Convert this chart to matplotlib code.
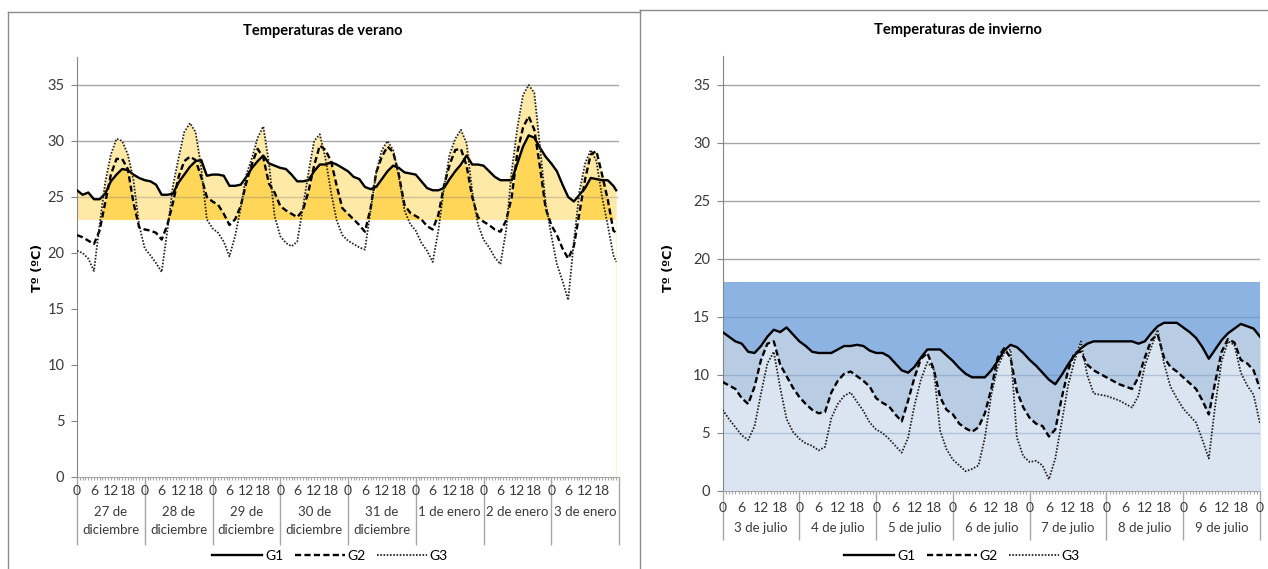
import numpy as np
import matplotlib
matplotlib.use('Agg')
import matplotlib.pyplot as plt
from matplotlib.lines import Line2D

plt.rcParams['font.family'] = ['Lato', 'DejaVu Sans']

# --- datos: temperaturas cada 2 horas ---
verano_dias = ['27 de\ndiciembre', '28 de\ndiciembre', '29 de\ndiciembre', '30 de\ndiciembre',
               '31 de\ndiciembre', '1 de enero', '2 de enero', '3 de enero']
invierno_dias = ['3 de julio', '4 de julio', '5 de julio', '6 de julio',
                 '7 de julio', '8 de julio', '9 de julio']
horas_etiqueta = [0, 6, 12, 18]

verano_horas = list(range(0, 192, 2)) + [191]
verano_g1 = [
    25.6, 25.2, 25.4, 24.8, 24.8, 25.3, 26.4, 27.0, 27.5, 27.4, 27.0, 26.7,
    26.5, 26.4, 26.1, 25.2, 25.2, 25.3, 26.3, 27.0, 27.7, 28.2, 28.3, 26.9,
    27.0, 27.0, 26.9, 26.0, 26.0, 26.1, 26.8, 27.6, 28.2, 28.7, 28.0, 27.8,
    27.6, 27.5, 27.0, 26.4, 26.4, 26.5, 27.3, 27.9, 27.9, 28.1, 27.9, 27.6,
    27.3, 26.8, 26.6, 25.9, 25.7, 25.9, 26.6, 27.3, 27.8, 27.6, 27.2, 27.1,
    27.0, 26.4, 25.8, 25.6, 25.6, 25.8, 26.6, 27.3, 27.9, 28.7, 27.9, 27.9,
    27.8, 27.3, 26.8, 26.5, 26.5, 26.5, 28.0, 29.5, 30.5, 30.3, 29.4, 28.6,
    28.0, 27.3, 26.1, 25.0, 24.6, 25.2, 25.8, 26.7, 26.6, 26.5, 26.5, 26.0,
    25.6]
verano_g2 = [
    21.6, 21.4, 21.1, 20.8, 22.0, 24.5, 27.0, 28.4, 28.4, 27.5, 24.5, 22.3,
    22.1, 22.0, 21.8, 21.2, 22.5, 24.5, 26.8, 28.2, 28.6, 28.3, 26.8, 25.0,
    24.6, 24.3, 23.5, 22.5, 23.0, 24.2, 26.3, 28.0, 29.3, 28.5, 26.2, 25.4,
    24.2, 23.8, 23.5, 23.2, 23.8, 25.5, 27.8, 29.6, 29.2, 28.2, 26.0, 24.0,
    23.5, 23.0, 22.5, 21.9, 24.0, 27.2, 28.6, 29.5, 29.0, 27.0, 24.3, 23.6,
    23.3, 23.0, 22.4, 22.1, 23.4, 26.0, 27.9, 29.2, 29.3, 27.8, 25.0, 23.2,
    22.8, 22.5, 22.1, 21.9, 22.9, 25.0, 29.0, 31.2, 32.2, 31.0, 27.7, 24.0,
    22.5, 21.6, 20.4, 19.5, 20.6, 23.6, 26.6, 28.8, 29.1, 27.0, 24.8, 22.0,
    21.8]
verano_g3 = [
    20.2, 20.0, 19.5, 18.4, 22.5, 26.3, 28.8, 30.2, 30.0, 28.8, 26.5, 22.5,
    20.4, 19.8, 19.1, 18.3, 22.0, 26.0, 28.5, 30.8, 31.6, 30.8, 27.6, 23.0,
    22.2, 21.8, 21.0, 19.7, 21.5, 24.0, 27.0, 28.5, 30.3, 31.3, 28.0, 23.3,
    21.5, 20.9, 20.6, 21.0, 24.0, 27.2, 30.0, 30.6, 28.5, 25.4, 22.9, 21.6,
    21.1, 20.8, 20.5, 20.3, 23.8, 27.2, 29.2, 30.0, 29.2, 26.8, 23.8, 22.6,
    22.0, 20.9, 20.2, 19.2, 22.0, 25.8, 28.8, 30.2, 31.0, 29.8, 25.5, 22.6,
    21.2, 20.5, 19.6, 19.0, 22.0, 27.3, 31.2, 34.1, 35.0, 34.3, 29.5, 24.5,
    21.6, 19.0, 17.5, 15.8, 21.0, 25.5, 28.0, 29.2, 28.2, 25.0, 22.5, 19.8,
    19.2]
verano_base = 23

invierno_horas = list(range(0, 169, 2))
invierno_g1 = [
    13.7, 13.3, 12.9, 12.7, 12.0, 11.9, 12.5, 13.3, 13.9, 13.7, 14.1, 13.5,
    12.9, 12.5, 12.0, 11.9, 11.9, 11.9, 12.2, 12.5, 12.5, 12.6, 12.5, 12.1,
    11.9, 11.9, 11.6, 11.0, 10.4, 10.2, 10.7, 11.5, 12.2, 12.2, 12.2, 11.7,
    11.2, 10.6, 10.1, 9.8, 9.8, 9.8, 10.4, 11.2, 12.1, 12.6, 12.4, 11.9,
    11.3, 10.8, 10.2, 9.6, 9.2, 10.0, 10.9, 11.7, 12.3, 12.7, 12.9, 12.9,
    12.9, 12.9, 12.9, 12.9, 12.9, 12.7, 12.9, 13.6, 14.2, 14.5, 14.5, 14.5,
    14.1, 13.7, 13.2, 12.4, 11.4, 12.2, 13.0, 13.6, 14.0, 14.4, 14.2, 14.0,
    13.3]
invierno_g2 = [
    9.4, 9.1, 8.8, 8.0, 7.5, 9.0, 11.3, 12.7, 12.9, 10.9, 9.9, 8.9,
    8.1, 7.5, 7.0, 6.7, 6.8, 8.5, 9.5, 10.1, 10.3, 9.9, 9.5, 9.0,
    8.0, 7.6, 7.3, 6.6, 6.0, 7.8, 9.8, 11.4, 11.9, 10.5, 8.1, 7.0,
    6.6, 5.8, 5.4, 5.1, 5.5, 6.7, 8.8, 11.5, 12.3, 11.5, 8.6, 7.2,
    6.3, 5.8, 5.6, 4.7, 5.3, 8.0, 10.4, 11.9, 12.0, 10.9, 10.4, 10.1,
    9.8, 9.5, 9.2, 9.0, 8.8, 9.8, 11.5, 13.0, 13.5, 11.5, 10.7, 10.3,
    9.8, 9.3, 8.8, 7.8, 6.6, 9.4, 12.0, 13.1, 12.8, 11.3, 11.0, 10.4,
    8.8]
invierno_g3 = [
    7.0, 6.2, 5.5, 4.8, 4.4, 5.6, 8.4, 11.0, 12.0, 8.9, 6.2, 5.1,
    4.5, 4.1, 3.9, 3.5, 3.8, 6.3, 7.5, 8.2, 8.5, 7.7, 6.9, 5.9,
    5.3, 5.0, 4.5, 3.9, 3.3, 4.6, 7.4, 9.6, 11.1, 10.5, 5.2, 3.6,
    2.7, 2.2, 1.7, 1.9, 2.2, 4.6, 8.3, 10.7, 11.9, 12.2, 4.6, 3.0,
    2.5, 2.6, 2.2, 1.0, 2.8, 5.9, 9.1, 11.2, 12.9, 10.0, 8.4, 8.3,
    8.2, 8.0, 7.8, 7.5, 7.2, 8.2, 10.8, 12.4, 13.9, 11.0, 9.0, 8.0,
    7.1, 6.5, 5.9, 4.4, 2.8, 7.4, 11.2, 12.9, 12.6, 10.2, 9.1, 8.3,
    5.8]
invierno_tope = 18

W, H = 1268, 569
GRIS = '#a6a6a6'
TEXTO = '#3a3a3a'
TAM = 10

fig = plt.figure(figsize=(W / 100, H / 100), dpi=100)
axL = fig.add_axes([77 / W, 1 - 477 / H, 542 / W, 420 / H])
axR = fig.add_axes([722.6 / W, 1 - 491 / H, 537.4 / W, 435 / H])


def eje(ax, dias, hora_dy, dia_dy, sep_len, cero_final):
    n = 24 * len(dias)
    ax.set_xlim(0, n)
    ax.set_ylim(0, 37.5)
    ax.set_yticks(range(0, 36, 5))
    for s in ['top', 'right']:
        ax.spines[s].set_visible(False)
    ax.spines['left'].set_color('#868686')
    ax.spines['bottom'].set_color(GRIS)
    ax.tick_params(axis='y', length=4, color='#868686', labelsize=TAM + 0.5,
                   labelcolor=TEXTO, pad=5)
    ax.set_xticks(np.arange(0, n + 1, 24))
    ax.set_xticklabels([])
    ax.set_xticks(np.arange(0, n + 1), minor=True)
    ax.tick_params(axis='x', which='major', length=sep_len, color=GRIS, width=1)
    ax.tick_params(axis='x', which='minor', length=2.5, color=GRIS, width=0.8)
    for d in range(len(dias)):
        for h in horas_etiqueta:
            ax.annotate(str(h), xy=(24 * d + h, 0), xycoords=('data', 'axes fraction'),
                        xytext=(0, -hora_dy), textcoords='offset points',
                        ha='center', va='center', fontsize=TAM, color=TEXTO)
    if cero_final:
        ax.annotate('0', xy=(n, 0), xycoords=('data', 'axes fraction'),
                    xytext=(0, -hora_dy), textcoords='offset points',
                    ha='center', va='center', fontsize=TAM, color=TEXTO)
    for d, nombre in enumerate(dias):
        for i, linea in enumerate(nombre.split('\n')):
            ax.annotate(linea, xy=(24 * d + 12, 0), xycoords=('data', 'axes fraction'),
                        xytext=(0, -(dia_dy + i * 13)), textcoords='offset points',
                        ha='center', va='center', fontsize=TAM - 0.5, color=TEXTO)


def lineas(ax, h, g1, g2, g3):
    ax.plot(h, g1, color='black', lw=1.7, zorder=5)
    ax.plot(h, g2, color='black', lw=1.7, ls=(0, (2.6, 1.4)), zorder=5)
    ax.plot(h, g3, color='#222222', lw=1.3, ls=(0, (0.9, 0.9)), zorder=5)


# --- verano ---
eje(axL, verano_dias, 10.1, 25.2, 49, False)
hv = np.array(verano_horas)
g1, g2, g3 = np.array(verano_g1), np.array(verano_g2), np.array(verano_g3)
tope = np.maximum(np.maximum(g1, g2), g3)
axL.fill_between(hv, verano_base, np.maximum(tope, verano_base), color='#FFE9A6', lw=0, zorder=1)
axL.fill_between(hv, verano_base, np.maximum(np.minimum(g1, g2), verano_base),
                 color='#FFD658', lw=0, zorder=2)
axL.plot([hv[-1], hv[-1]], [0, verano_base], color='#FFF4D2', lw=1, zorder=1)
for y in [30, 35]:
    axL.axhline(y, color=GRIS, lw=1, zorder=0.5)
axL.axhline(25, color='#7a7a7a', lw=1, alpha=0.35, zorder=3)
lineas(axL, hv, g1, g2, g3)

# --- invierno ---
eje(axR, invierno_dias, 12.2, 26.6, 35, True)
hi = np.array(invierno_horas)
w1, w2, w3 = np.array(invierno_g1), np.array(invierno_g2), np.array(invierno_g3)
axR.fill_between(hi, 0, invierno_tope, color='#8DB3E2', lw=0, zorder=1)
axR.fill_between(hi, 0, w1, color='#B8CCE4', lw=0, zorder=1.1)
axR.fill_between(hi, 0, np.maximum(w2, w3), color='#DBE5F1', lw=0, zorder=1.2)
for y in [20, 25, 30, 35]:
    axR.axhline(y, color=GRIS, lw=1, zorder=0.5)
for y in [5, 10, 15]:
    axR.axhline(y, color='#4f74a3', lw=1, alpha=0.3, zorder=3)
lineas(axR, hi, w1, w2, w3)

# --- textos ---
fig.text(323 / W, 1 - 31 / H, 'Temperaturas de verano', ha='center', va='center',
         fontsize=10.5, fontweight='bold')
fig.text(958 / W, 1 - 30 / H, 'Temperaturas de invierno', ha='center', va='center',
         fontsize=10.5, fontweight='bold')
for xt in [38, 668]:
    fig.text(xt / W, 1 - 268 / H, 'Tº (ºC)', rotation=90, ha='center', va='center',
             fontsize=9, fontweight='bold', family='DejaVu Sans')

manejadores = [Line2D([], [], color='black', lw=1.7),
               Line2D([], [], color='black', lw=1.7, ls=(0, (2.6, 1.4))),
               Line2D([], [], color='#222222', lw=1.3, ls=(0, (0.9, 0.9)))]
for cx in [330, 962]:
    fig.legend(manejadores, ['G1', 'G2', 'G3'], loc='center',
               bbox_to_anchor=(cx / W, 1 - 556 / H), ncol=3, frameon=False,
               fontsize=TAM, handlelength=3.6, columnspacing=0.8, handletextpad=0.2)

# marcos
marco = dict(color='#8c8c8c', lw=1)
fig.add_artist(Line2D([8 / W, 640 / W], [1 - 12 / H, 1 - 12 / H], **marco))
fig.add_artist(Line2D([8 / W, 8 / W], [1 - 12 / H, 0], **marco))
fig.add_artist(Line2D([640 / W, 640 / W], [1 - 10 / H, 0], **marco))
fig.add_artist(Line2D([640 / W, 1], [1 - 10 / H, 1 - 10 / H], **marco))

fig.savefig('out.png', dpi=100)
